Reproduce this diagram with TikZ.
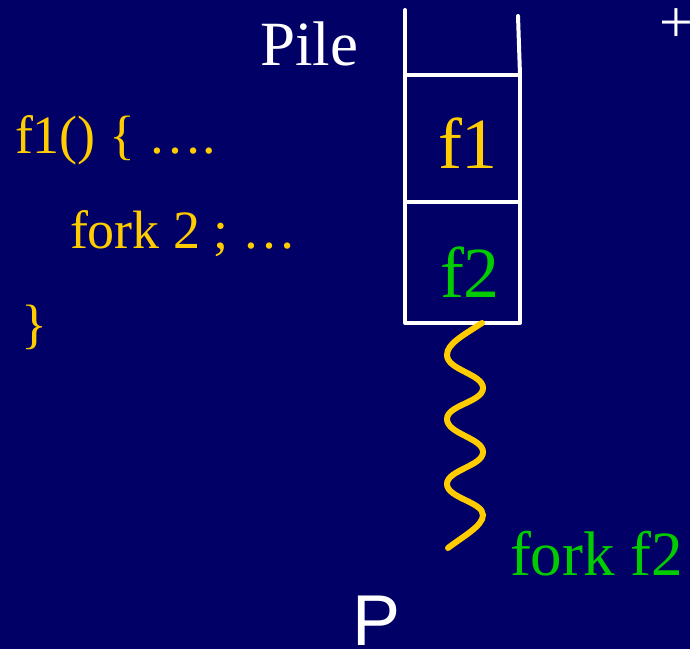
\documentclass[tikz,border=0pt]{standalone}
\usepackage{fontspec}
\setmainfont{Liberation Serif}
\newfontfamily\sansP{Liberation Sans}
\definecolor{bgblue}{RGB}{0,0,102}
\definecolor{codeyellow}{RGB}{255,204,0}
\definecolor{forkgreen}{RGB}{0,204,0}
\tikzset{
  txt/.style={inner sep=0pt, outer sep=0pt, anchor=base west},
  codetxt/.style={txt, text=codeyellow, font=\fontsize{54}{60}\selectfont},
  stackline/.style={draw=white, line width=4pt, line cap=round, line join=round},
  cell/.style={stackline, inner sep=0pt, outer sep=0pt, minimum width=115pt},
  wave/.style={draw=codeyellow, line width=6pt, line cap=round}
}
\begin{document}
\begin{tikzpicture}[x=1pt,y=-1pt]
\fill[bgblue] (0,0) rectangle (690,649);
\useasboundingbox (0,0) rectangle (690,649);
% code text
\node[codetxt] (l1) at (15,153) {f1() \{ ….};
\node[codetxt] (l2) at (70,248) {fork 2 ; …};
\node[codetxt] (l3) at (21,342) {\}};
% title
\node[txt, text=white, font=\fontsize{63}{70}\selectfont] (pile) at (260,65) {Pile};
% plus
\node[inner sep=0pt, text=white, font=\fontsize{60}{64}\selectfont] (plus) at (676,26) {+};
% stack cells
\node[cell, minimum height=127pt] (c1) at (462.5,138.5) {};
\node[cell, minimum height=121pt] (c2) at (462.5,262.5) {};
\coordinate (tl) at (405,10);
\coordinate (tr) at (518,16);
\draw[stackline] (c1.north west) -- (tl);
\draw[stackline] (c1.north east) -- (tr);
\node[txt, text=codeyellow, font=\fontsize{72}{80}\selectfont] (f1) at (438,168) {f1};
\node[txt, text=forkgreen, font=\fontsize{72}{80}\selectfont] (f2) at (440,297) {f2};
% wave
\coordinate (w0) at (482,323);
\coordinate (wend) at (448,548);
\draw[wave] (w0) .. controls (462,336) and (447,344) .. (447,355)
  .. controls (447,370) and (483,374) .. (483,388)
  .. controls (483,402) and (447,405) .. (447,419)
  .. controls (447,434) and (483,438) .. (483,452)
  .. controls (483,466) and (447,470) .. (447,484)
  .. controls (447,498) and (483,502) .. (483,515)
  .. controls (483,526) and (462,537) .. (wend);
\node[txt, text=forkgreen, font=\fontsize{63}{70}\selectfont] (fork) at (510,575) {fork f2};
\node[txt, text=white, font=\sansP\fontsize{72}{80}\selectfont] (P) at (352,645) {P};
\end{tikzpicture}
\end{document}
